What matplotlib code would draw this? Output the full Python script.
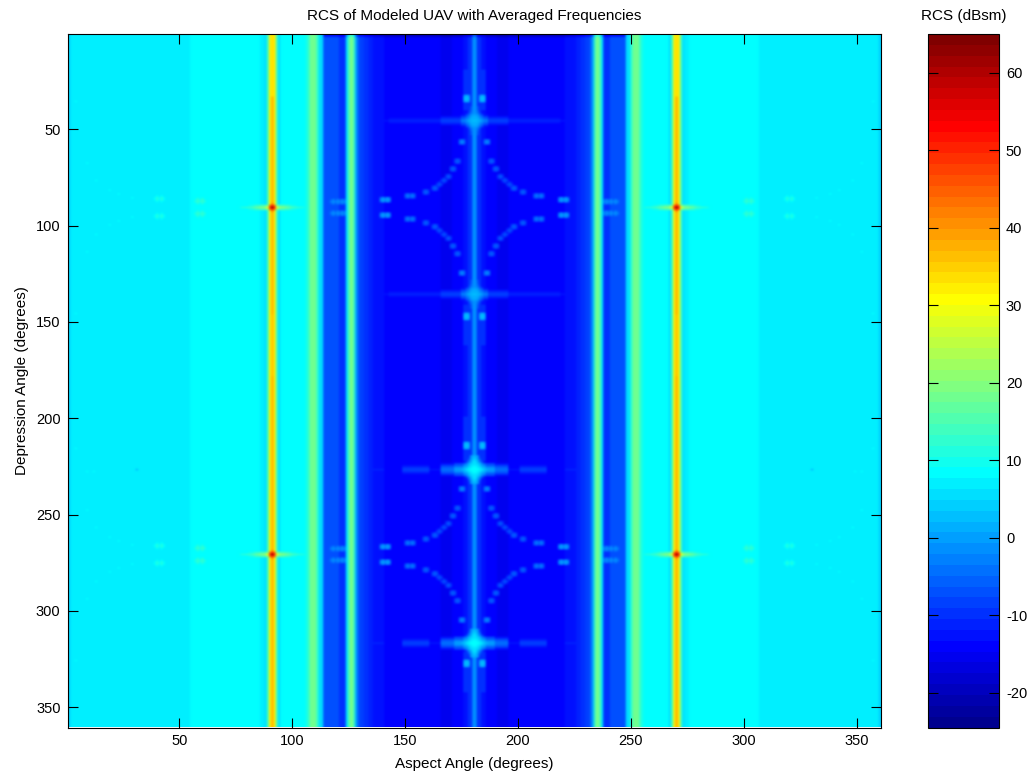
import numpy as np
import matplotlib
matplotlib.use('Agg')
import matplotlib.pyplot as plt
from matplotlib.colors import ListedColormap

plt.rcParams['font.family'] = ['Liberation Sans', 'DejaVu Sans']
plt.rcParams['axes.unicode_minus'] = False

# left half of the aspect profile (last aspect of each run, rcs of the run)
run_end = [1, 54, 85, 87, 88, 89, 90, 91, 92, 93, 94, 105, 106, 107, 110, 111, 113, 120, 123, 124,
           125, 126, 127, 128, 129, 131, 133, 135, 138, 140, 165, 170, 175, 177, 179, 180]
run_rcs = [4.5, 6.5, 8.3, 7, 5.5, 14, 32, 38, 32, 14, 5.5, 8.3, 9.5, 13, 17.5, 13, 5, -7, -9.5, 5,
           15, 19, 15, 1, -6, -8, -9.5, -11, -12, -13, -14, -16, -14, -12.5, -10, -2]

# specular peak columns, rows where the core stays yellow
yellow_rows = [1, 33]
peak_rows = [91, 271]
peak_column = 91
peak_rcs = [63, 50, 42]
peak_arm_offset = [1, 2, 3, 4, 5, 6, 7, 8, 9, 10, 11, 12, 13, 14]
peak_arm_rcs = [50, 30, 22, 20, 19, 18, 16.5, 15, 14, 13, 12, 11, 10.5, 10]
peak_side_rcs = [44, 20, 15, 14, 13.5, 13, 12, 11, 10, 9.5, 9, 8.3, 8.3, 8.3]

# arcs around the two peak rows (left aspect, row offset, rcs)
arc_aspect = [140, 142, 151, 153, 159, 163, 165, 167, 169, 171, 173, 175, 177, 177]
arc_offset = [4, 4, 6, 6, 8, 10, 12, 14, 16, 20, 24, 34, 56, 57]
arc_rcs = [0, 0, -3, -3, -5, -5, -7, -7, -6, -5, -5, -2, 3, 3]

# streaks above and below the arc ends
streak_aspect = [176, 177]
streak_rows = [(20, 40), (142, 162), (200, 222), (322, 342)]
streak_rcs = -10.5

# horizontal bands through aspect 180
weak_rows = [46, 136]
strong_rows = [227, 317]
band_offset_end = [6, 15, 38, 50]
weak_band_rcs = [-3, -8, -11, -12.5]
strong_offset_end = [5, 9, 15, 20, 32, 40, 52]
strong_band_rcs = [3, 0, -4, -13, -8, -13.5, -11]
band_row_drop = [0, 2, 5, 9]
core_rcs = [[9, 8, 7, 5, 3, 2],
            [8, 7, 5, 3, 1, -1],
            [7, 6, 3, 0, -3, -6],
            [6, 4, 1, -3, -8, -12],
            [5, 2, -3, -8, -12, -14],
            [4, 0, -6, -12, -14, -14],
            [3, -1, -9, -14, -14, -14],
            [2, -1, -12, -14, -14, -14]]

# pale spots on the cyan side (left aspect, row above the peak row, rcs)
pale_aspect = [58, 60, 58, 60, 40, 42, 40, 42, 29, 23, 19, 13, 9, 4]
pale_offset = [3, 3, 4, 4, 4, 4, 5, 5, 5, 7, 9, 14, 23, 55]
pale_rcs = [13, 13, 12, 12, 11, 11, 11, 11, 8.5, 8.5, 8.5, 8.5, 8.5, 8]
ghost_aspect = [118, 120, 122]
ghost_offset = [3, 3, 3]
ghost_rcs = [-1, -1, -1]
dark_aspect = [31, 9, 12]
dark_row = [227, 228, 228]
dark_rcs = [3, 8.3, 8.3]

xticks = [50, 100, 150, 200, 250, 300, 350]
yticks = [50, 100, 150, 200, 250, 300, 350]
cticks = [-20, -10, 0, 10, 20, 30, 40, 50, 60]

spread = [[-5, -2, -5], [-2, 0, -2], [-5, -2, -5]]

# the 64 level jet of the reference colour bar, not matplotlib's jet
jet_u = np.concatenate([np.arange(1, 17) / 16, np.ones(15), np.arange(16, 0, -1) / 16])
jet_g = np.arange(len(jet_u)) + 8
jet_table = np.zeros((64, 3))
for k, shift in enumerate([16, 0, -16]):
    idx = jet_g + shift
    keep = (idx >= 0) & (idx < 64)
    jet_table[idx[keep], k] = jet_u[keep]
jet64 = ListedColormap(jet_table)


def raise_cell(grid, row, col, value):
    # written to both mirror sides of the aspect axis
    for c in (col, 361 - col):
        grid[row - 1, c - 1] = max(grid[row - 1, c - 1], value)


def dot(grid, row, col, value):
    for i in range(3):
        for j in range(3):
            raise_cell(grid, row + i - 1, col + j - 1, value + spread[i][j])


def band(grid, r, ends, vals):
    prev = 0
    for end, val in zip(ends, vals):
        for off in range(prev, end):
            for i, drop in enumerate(band_row_drop):
                raise_cell(grid, r - i, 180 - off, val - drop)
                raise_cell(grid, r + i, 180 - off, val - drop)
        prev = end


half = np.repeat(run_rcs, np.diff([0] + run_end)).astype(float)
rcs = np.tile(np.concatenate([half, half[::-1]]), (360, 1))

# top rows go dark in the middle
rcs[:2, 113:247] -= 5

# yellow top of the two peak columns
rcs[yellow_rows[0] - 1:yellow_rows[1], [peak_column - 1, 360 - peak_column]] = 33
rcs[146:178, [peak_column - 1, 360 - peak_column]] = 36

for r in weak_rows:
    band(rcs, r, band_offset_end, weak_band_rcs)
    for i, line in enumerate(core_rcs):
        for off, val in enumerate(line):
            raise_cell(rcs, r - i, 180 - off, val - 6)
            raise_cell(rcs, r + i, 180 - off, val - 6)

for r in strong_rows:
    band(rcs, r, strong_offset_end, strong_band_rcs)
    for i, line in enumerate(core_rcs):
        for off, val in enumerate(line):
            raise_cell(rcs, r - i, 180 - off, val)
            raise_cell(rcs, r + i, 180 - off, val)

for start, stop in streak_rows:
    for r in range(start, stop + 1):
        for a in streak_aspect:
            raise_cell(rcs, r, a, streak_rcs)

for r in peak_rows:
    for a, off, val in zip(arc_aspect, arc_offset, arc_rcs):
        dot(rcs, r - off, a, val)
        dot(rcs, r + off, a, val)
    for a, off, val in zip(pale_aspect, pale_offset, pale_rcs):
        dot(rcs, r - off, a, val)
        dot(rcs, r + off, a, val)
    for a, off, val in zip(ghost_aspect, ghost_offset, ghost_rcs):
        dot(rcs, r - off, a, val)
        dot(rcs, r + off, a, val)
    for off, val, side in zip(peak_arm_offset, peak_arm_rcs, peak_side_rcs):
        for c in (peak_column - off, peak_column + off):
            raise_cell(rcs, r, c, val)
            raise_cell(rcs, r - 1, c, side)
            raise_cell(rcs, r + 1, c, side)
    raise_cell(rcs, r, peak_column, peak_rcs[0])
    raise_cell(rcs, r - 1, peak_column, peak_rcs[1])
    raise_cell(rcs, r + 1, peak_column, peak_rcs[1])
    raise_cell(rcs, r - 2, peak_column, peak_rcs[2])
    raise_cell(rcs, r + 2, peak_column, peak_rcs[2])

for a, r, val in zip(dark_aspect, dark_row, dark_rcs):
    rcs[r - 1, a - 1] = val
    rcs[r - 1, 360 - a] = val

W, H = 1027, 774
fig = plt.figure(figsize=(W / 100, H / 100), dpi=100, facecolor='white')
ax = fig.add_axes([67.5 / W, 1 - 727.5 / H, (880.5 - 67.5) / W, (727.5 - 34) / H])
cax = fig.add_axes([928 / W, 1 - 727.5 / H, 71 / W, (727.5 - 34) / H])

im = ax.imshow(rcs, cmap=jet64, vmin=-24.5, vmax=65, aspect='auto',
               extent=[0.5, 360.5, 360.5, 0.5], interpolation='bicubic')
ax.set_xticks(xticks)
ax.set_yticks(yticks)
ax.tick_params(direction='in', length=7, width=0.8, top=True, right=True, labelsize=10.5, pad=5)
ax.set_xlabel('Aspect Angle (degrees)', fontsize=11, labelpad=6)
ax.set_ylabel('Depression Angle (degrees)', fontsize=11, labelpad=5)
ax.set_title('RCS of Modeled UAV with Averaged Frequencies', fontsize=11, pad=10)

cb = fig.colorbar(im, cax=cax)
cb.set_ticks(cticks)
cb.ax.tick_params(direction='in', length=7, width=0.8, left=True, right=True, labelsize=10.5, pad=5)
cb.outline.set_linewidth(0.8)
cax.set_title('RCS (dBsm)', fontsize=11, pad=10)

fig.savefig('out.png', dpi=100)
